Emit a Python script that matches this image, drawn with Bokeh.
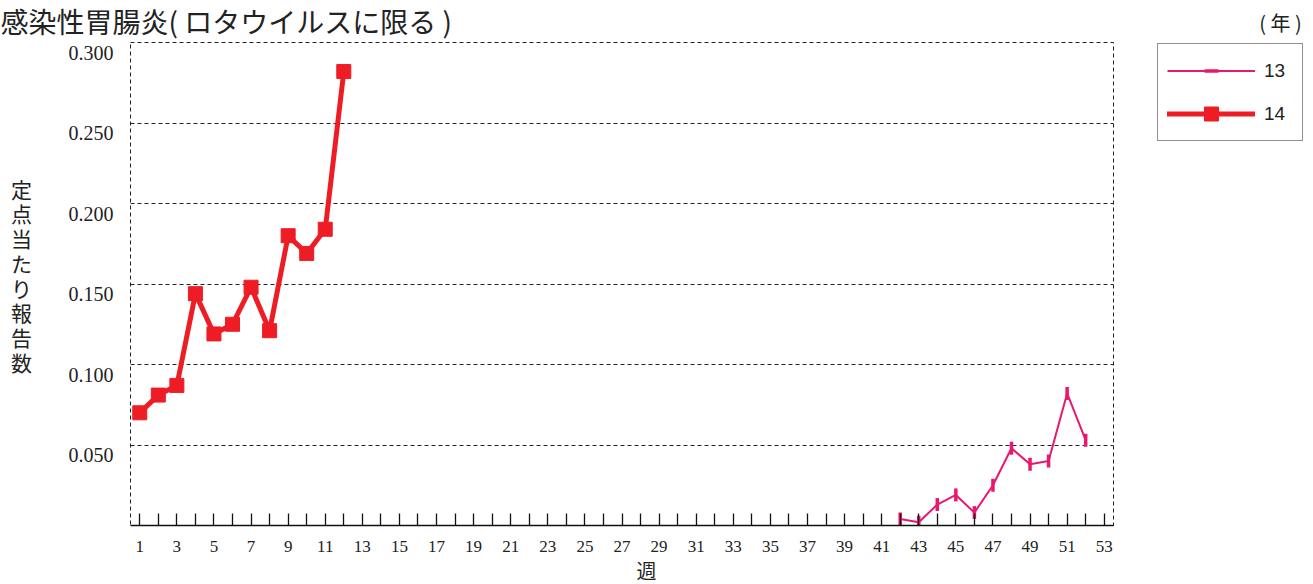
import math
from bokeh.plotting import figure
from bokeh.models import (Range1d, FixedTicker, Label, Legend, LegendItem,
                          LinearAxis, Grid)
from bokeh.embed import file_html
from bokeh.resources import INLINE
from bokeh.core.properties import value

# ---------------- data ----------------
weeks_14 = list(range(1, 13))
vals_14 = [0.070, 0.081, 0.087, 0.144, 0.119, 0.125, 0.148, 0.121, 0.180, 0.169, 0.184, 0.282]
weeks_13 = list(range(42, 53))
vals_13 = [0.004, 0.002, 0.013, 0.019, 0.008, 0.025, 0.048, 0.038, 0.040, 0.082, 0.053]
series_names = ["13", "14"]
x_tick_major = list(range(1, 54, 2))
x_tick_minor = list(range(2, 53, 2))
y_ticks = [0.05, 0.10, 0.15, 0.20, 0.25, 0.30]
y_tick_labels = ["0.050", "0.100", "0.150", "0.200", "0.250", "0.300"]
title_text = "感染性胃腸炎( ロタウイルスに限る )"
y_label_text = "定点当たり報告数"
x_label_text = "週"
unit_text = "( 年 )"

# ---------------- layout ----------------
C13 = "#E8186E"
C14 = "#EE1D25"
INK = "#222222"
L, T, FW, FH = 130, 42, 983, 483
W, H = 1310, 584
XMIN, XMAX, YMIN, YMAX = 0.5, 53.5, 0.0, 0.3


def X(cx):
    return XMIN + (cx - L) * (XMAX - XMIN) / FW


def Y(cy):
    return YMIN + (T + FH - cy) * (YMAX - YMIN) / FH


p = figure(frame_width=FW, frame_height=FH,
           min_border_left=L, min_border_top=T,
           min_border_right=W - L - FW, min_border_bottom=H - T - FH,
           x_range=Range1d(XMIN, XMAX), y_range=Range1d(YMIN, YMAX),
           y_axis_location=None,
           output_backend="svg", toolbar_location=None,
           background_fill_color="white", border_fill_color="white")

p.outline_line_color = INK
p.outline_line_width = 1
p.outline_line_dash = "4 3"

p.xgrid.visible = False

ygrids = [g for g in p.select(type=Grid) if g.dimension == 1]
if not ygrids:
    g = Grid(dimension=1)
    p.add_layout(g, "center")
    ygrids = [g]
for g in ygrids:
    g.ticker = FixedTicker(ticks=y_ticks)
    g.grid_line_color = INK
    g.grid_line_width = 1
    g.grid_line_dash = "4 3"

xa = p.xaxis[0]
xa.ticker = FixedTicker(ticks=x_tick_major, minor_ticks=x_tick_minor)
xa.axis_line_color = "#111111"
xa.axis_line_width = 1.5
xa.major_tick_in = 12
xa.major_tick_out = 0
xa.minor_tick_in = 12
xa.minor_tick_out = 0
xa.major_tick_line_color = "#111111"
xa.minor_tick_line_color = "#111111"
xa.major_tick_line_width = 1.3
xa.minor_tick_line_width = 1.3
xa.major_label_text_font = "Liberation Serif"
xa.major_label_text_font_size = "17px"
xa.major_label_text_color = INK
xa.major_label_standoff = 15

# y labels sit about 10px below their grid lines in the reference
shift = 10 * (YMAX - YMIN) / FH
p.extra_y_ranges = {"lab": Range1d(YMIN + shift, YMAX + shift)}
ya = LinearAxis(y_range_name="lab", ticker=FixedTicker(ticks=y_ticks))
ya.major_label_overrides = {t: s for t, s in zip(y_ticks, y_tick_labels)}
ya.axis_line_color = None
ya.major_tick_in = 0
ya.major_tick_out = 0
ya.minor_tick_line_color = None
ya.major_label_text_font = "Liberation Serif"
ya.major_label_text_font_size = "20px"
ya.major_label_text_color = INK
ya.major_label_standoff = 17
p.add_layout(ya, "left")

# ---------------- series ----------------
r13l = p.line(weeks_13, vals_13, line_color=C13, line_width=2)
r13m = p.scatter(weeks_13, vals_13, marker="dash", size=13, angle=math.pi / 2,
                 line_color=C13, line_width=3.5)
r14l = p.line(weeks_14, vals_14, line_color=C14, line_width=5,
              line_join="round", line_cap="round")
r14m = p.scatter(weeks_14, vals_14, marker="square", size=14,
                 fill_color=C14, line_color=C14)

legend = Legend(items=[LegendItem(label=value(series_names[0]), renderers=[r13l, r13m]),
                       LegendItem(label=value(series_names[1]), renderers=[r14l, r14m])],
                location=(44, 384), orientation="vertical",
                padding=9, spacing=8, glyph_width=88, glyph_height=35,
                label_standoff=9, label_width=29, margin=0,
                label_text_font="Liberation Sans", label_text_font_size="19px",
                label_text_color=INK,
                border_line_color=INK, border_line_width=1.2,
                background_fill_color="white", background_fill_alpha=1)
p.add_layout(legend, "right")

# ---------------- texts (in side panels so they are not clipped) ----------------
p.add_layout(Label(x=X(0), y=Y(20.5), text=title_text,
                   text_font="Noto Sans CJK JP", text_font_size="28px",
                   text_color=INK, text_align="left", text_baseline="middle"), "above")
p.add_layout(Label(x=X(21), y=Y(173), text="\n".join(y_label_text),
                   text_font="Noto Sans CJK JP", text_font_size="21px",
                   text_line_height=0.825,
                   text_color=INK, text_align="center", text_baseline="top"), "left")
p.add_layout(Label(x=X(646), y=Y(570), text=x_label_text,
                   text_font="Noto Sans CJK JP", text_font_size="20px",
                   text_color=INK, text_align="center", text_baseline="middle"), "below")
p.add_layout(Label(x=X(1280), y=Y(22), text=unit_text,
                   text_font="Noto Sans CJK JP", text_font_size="20px",
                   text_color=INK, text_align="center", text_baseline="middle"), "right")

open("out.html", "w").write(file_html(p, INLINE))
